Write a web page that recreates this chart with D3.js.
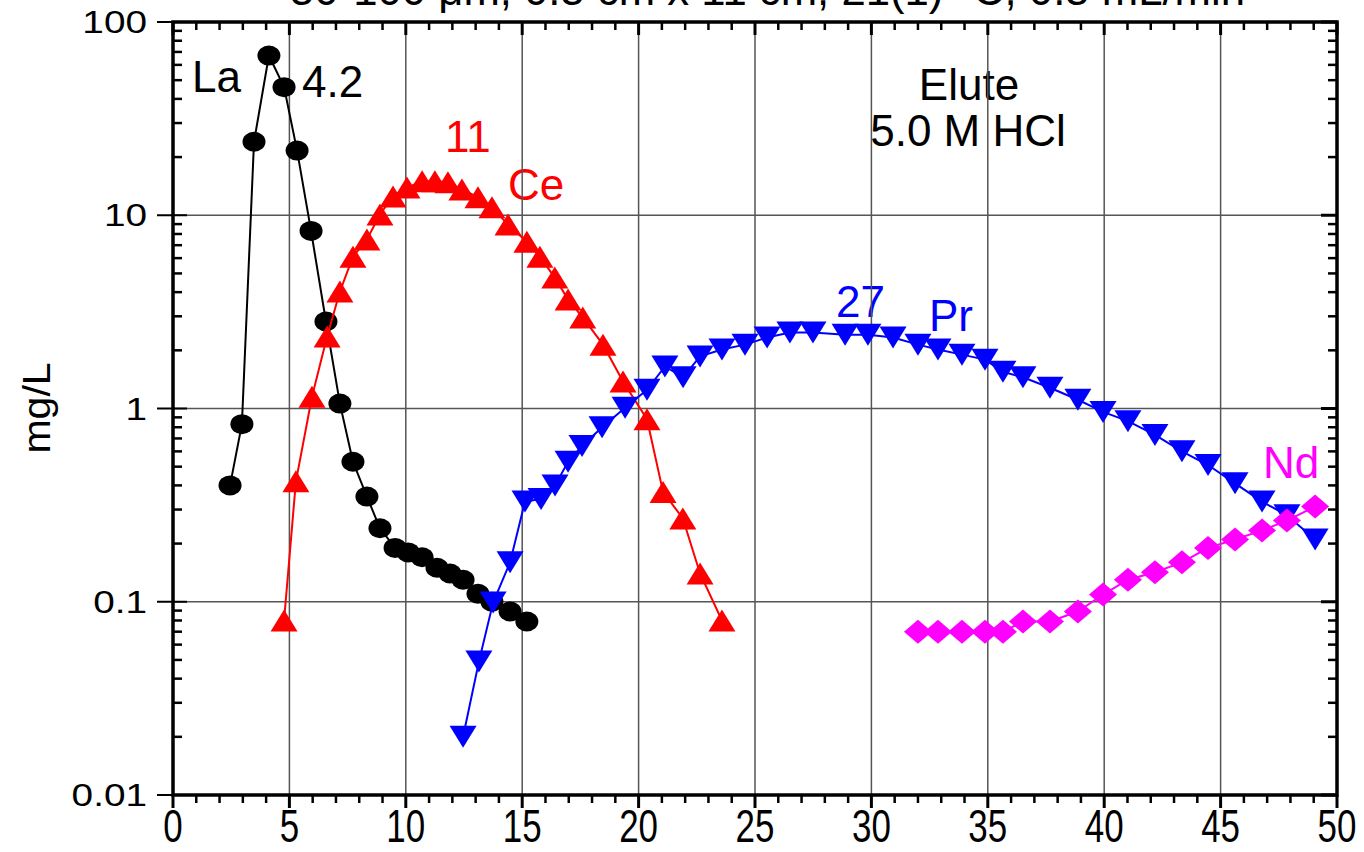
<!DOCTYPE html>
<html>
<head>
<meta charset="utf-8">
<script src="https://cdn.jsdelivr.net/npm/d3@7"></script>
<style>
  html, body { margin: 0; padding: 0; background: #fff; }
  svg { display: block; font-family: Arial, "Liberation Sans", sans-serif; }
</style>
</head>
<body>
<svg id="chart" width="1364" height="852"></svg>
<script>
// Elution volume (mL) and concentration (mg/L) for each element
const laVol = [2.45, 2.96, 3.48, 4.12, 4.77, 5.33, 5.93, 6.57, 7.17, 7.73, 8.33, 8.89, 9.54, 10.1, 10.7, 11.34, 11.9, 12.46, 13.1, 13.7, 14.48, 15.2];
const laConc = [0.40, 0.83, 24, 67, 46, 21.6, 8.3, 2.82, 1.06, 0.53, 0.35, 0.24, 0.19, 0.18, 0.17, 0.15, 0.14, 0.13, 0.11, 0.10, 0.089, 0.079];

const ceVol = [4.77, 5.28, 5.97, 6.62, 7.17, 7.73, 8.33, 8.89, 9.45, 10.05, 10.7, 11.25, 11.81, 12.41, 13.1, 13.7, 14.39, 15.2, 15.76, 16.4, 16.97, 17.6, 18.47, 19.33, 20.36, 21.05, 21.9, 22.64, 23.58];
const ceConc = [0.08, 0.42, 1.15, 2.36, 4.03, 6.1, 7.5, 10.1, 12.5, 13.9, 15.0, 15.0, 14.8, 13.6, 12.4, 11.0, 8.95, 7.3, 6.1, 4.76, 3.66, 2.96, 2.14, 1.38, 0.88, 0.37, 0.27, 0.14, 0.08];

const prVol = [12.46, 13.14, 13.75, 14.48, 15.12, 15.81, 16.41, 16.97, 17.57, 18.43, 19.42, 20.36, 21.13, 21.91, 22.64, 23.58, 24.57, 25.52, 26.5, 27.49, 28.87, 29.85, 30.93, 32.0, 32.86, 33.89, 34.88, 35.65, 36.51, 37.67, 38.87, 39.95, 41.02, 42.18, 43.34, 44.46, 45.62, 46.78, 47.85, 49.06];
const prConc = [0.020, 0.049, 0.099, 0.16, 0.33, 0.34, 0.40, 0.53, 0.64, 0.80, 1.01, 1.25, 1.65, 1.45, 1.86, 2.02, 2.14, 2.33, 2.47, 2.47, 2.41, 2.41, 2.33, 2.14, 2.02, 1.90, 1.79, 1.55, 1.45, 1.28, 1.11, 0.96, 0.86, 0.73, 0.60, 0.51, 0.41, 0.33, 0.28, 0.21];

const ndVol = [32.0, 32.86, 33.89, 34.88, 35.65, 36.51, 37.67, 38.87, 39.95, 41.02, 42.18, 43.34, 44.46, 45.62, 46.78, 47.85, 49.06];
const ndConc = [0.070, 0.070, 0.070, 0.070, 0.070, 0.079, 0.079, 0.089, 0.109, 0.130, 0.142, 0.16, 0.19, 0.21, 0.234, 0.263, 0.311];

// Axis ticks
const xMajorTicks = [0, 5, 10, 15, 20, 25, 30, 35, 40, 45, 50];
const yMajorTicks = [0.01, 0.1, 1, 10, 100];
const yTickLabels = ["0.01", "0.1", "1", "10", "100"];

const titleText = "50-100 \u03BCm, 0.5 cm x 11 cm, 21(1) \u00B0C, 0.5 mL/min";

const svg = d3.select("#chart");
const plotLeft = 173, plotRight = 1337, plotTop = 22, plotBottom = 795;

const x = d3.scaleLinear().domain([0, 50]).range([plotLeft, plotRight]);
const y = d3.scaleLog().domain([0.01, 100]).range([plotBottom, plotTop]);

const xMinorTicks = d3.range(0, 51, 1).filter(v => v % 5 !== 0);
const yMinorTicks = [];
[0.01, 0.1, 1, 10].forEach(d => { for (let k = 2; k <= 9; k++) yMinorTicks.push(d * k); });

// Title (sits mostly above the frame)
svg.append("text")
  .attr("x", 290).attr("y", 5)
  .attr("font-size", 44)
  .attr("textLength", 955)
  .attr("lengthAdjust", "spacingAndGlyphs")
  .text(titleText);

// Annotations
const notes = [
  { t: "La", x: 192, y: 92, c: "#000", a: "start" },
  { t: "4.2", x: 302, y: 97, c: "#000", a: "start" },
  { t: "11", x: 445, y: 152, c: "#ff0000", a: "start" },
  { t: "Ce", x: 508, y: 200, c: "#ff0000", a: "start" },
  { t: "27", x: 836, y: 317, c: "#0000ff", a: "start" },
  { t: "Pr", x: 929, y: 331, c: "#0000ff", a: "start" },
  { t: "Nd", x: 1263, y: 478, c: "#ff00ff", a: "start" },
  { t: "Elute", x: 969, y: 100, c: "#000", a: "middle" },
  { t: "5.0 M HCl", x: 968, y: 146, c: "#000", a: "middle" }
];
svg.append("g").selectAll("text").data(notes).join("text")
  .attr("x", d => d.x).attr("y", d => d.y)
  .attr("text-anchor", d => d.a)
  .attr("fill", d => d.c)
  .attr("font-size", 44)
  .text(d => d.t);

// Grid
const grid = svg.append("g").attr("stroke", "#555").attr("stroke-width", 1.5);
grid.selectAll(".gx").data(xMajorTicks.slice(1, -1)).join("line")
  .attr("x1", d => x(d)).attr("x2", d => x(d)).attr("y1", plotTop).attr("y2", plotBottom);
grid.selectAll(".gy").data(yMajorTicks.slice(1, -1)).join("line")
  .attr("y1", d => y(d)).attr("y2", d => y(d)).attr("x1", plotLeft).attr("x2", plotRight);

// Marker shapes
const shapes = {
  circle: "M-11.5,0A11.5,10 0 1,0 11.5,0A11.5,10 0 1,0 -11.5,0Z",
  up: "M0,-11L13.5,11L-13.5,11Z",
  down: "M-13.5,-11L13.5,-11L0,11Z",
  diamond: "M0,-12L14,0L0,12L-14,0Z"
};

const series = [
  { vol: laVol, conc: laConc, color: "#000000", shape: "circle" },
  { vol: ceVol, conc: ceConc, color: "#ff0000", shape: "up" },
  { vol: prVol, conc: prConc, color: "#0000ff", shape: "down" },
  { vol: ndVol, conc: ndConc, color: "#ff00ff", shape: "diamond" }
];

const line = d3.line().x(d => x(d[0])).y(d => y(d[1]));
series.forEach(s => {
  const pts = s.vol.map((v, i) => [v, s.conc[i]]);
  const g = svg.append("g");
  g.append("path").datum(pts).attr("d", line)
    .attr("fill", "none").attr("stroke", s.color).attr("stroke-width", 2);
  g.selectAll("path.m").data(pts).join("path")
    .attr("class", "m")
    .attr("transform", d => `translate(${x(d[0])},${y(d[1])})`)
    .attr("d", shapes[s.shape])
    .attr("fill", s.color);
});

// Frame and ticks
const axes = svg.append("g").attr("stroke", "#000");
function ticksH(vals, y0, len, w) {
  axes.append("g").selectAll("line").data(vals).join("line")
    .attr("x1", d => x(d)).attr("x2", d => x(d))
    .attr("y1", y0).attr("y2", y0 + len).attr("stroke-width", w);
}
function ticksV(vals, x0, len, w) {
  axes.append("g").selectAll("line").data(vals).join("line")
    .attr("y1", d => y(d)).attr("y2", d => y(d))
    .attr("x1", x0).attr("x2", x0 + len).attr("stroke-width", w);
}
// bottom: outward
ticksH(xMajorTicks, plotBottom, 13, 3);
ticksH(xMinorTicks, plotBottom, 8, 2.5);
// top: inward
ticksH(xMajorTicks, plotTop, 13, 3);
ticksH(xMinorTicks, plotTop, 8, 2.5);
// left: inward with short outward on majors
ticksV(yMajorTicks, plotLeft - 16, 30, 2);
ticksV(yMinorTicks, plotLeft, 9, 2.5);
// right: inward
ticksV(yMajorTicks, plotRight, -16, 3);
ticksV(yMinorTicks, plotRight, -9, 2.5);

axes.append("rect")
  .attr("x", plotLeft).attr("y", plotTop)
  .attr("width", plotRight - plotLeft).attr("height", plotBottom - plotTop)
  .attr("fill", "none").attr("stroke-width", 3.5);

// Tick labels
svg.append("g").selectAll("text").data(xMajorTicks).join("text")
  .attr("transform", d => `translate(${x(d)},842) scale(0.76,1)`)
  .attr("text-anchor", "middle")
  .attr("font-size", 46)
  .text(d => d);

svg.append("g").selectAll("text").data(yMajorTicks).join("text")
  .attr("transform", d => `translate(147,${y(d) + 11}) scale(1.25,1)`)
  .attr("text-anchor", "end")
  .attr("font-size", 31)
  .text((d, i) => yTickLabels[i]);

// Y axis title
svg.append("text")
  .attr("transform", "translate(50,408) rotate(-90) scale(1.08,1)")
  .attr("text-anchor", "middle")
  .attr("font-size", 38)
  .text("mg/L");
</script>
</body>
</html>
